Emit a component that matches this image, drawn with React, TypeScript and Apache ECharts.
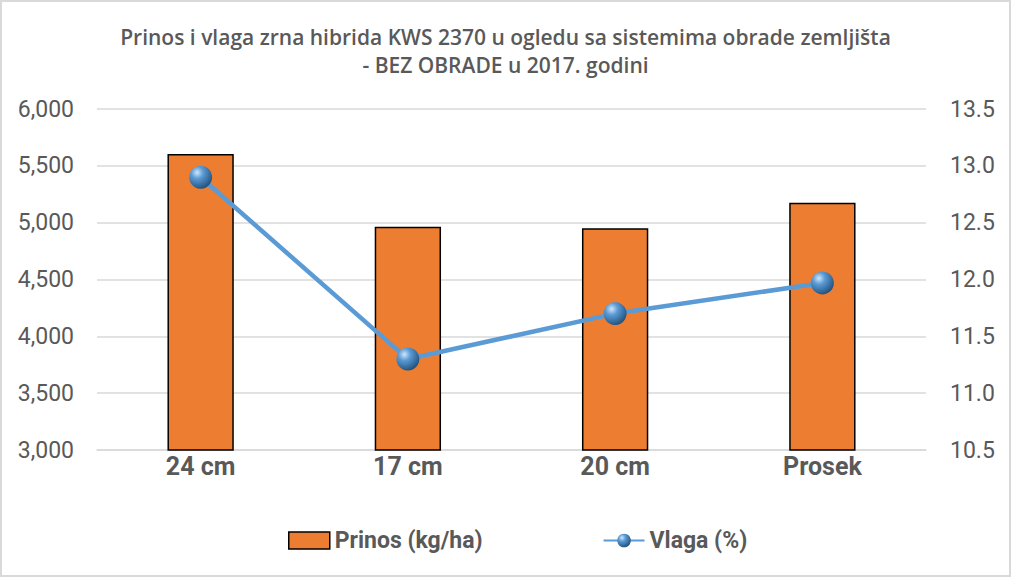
import React, { useEffect, useRef } from "react";
import * as echarts from "echarts";

const categories = ["24 cm", "17 cm", "20 cm", "Prosek"];
const prinos = [5605, 4965, 4950, 5175];
const vlaga = [12.9, 11.3, 11.7, 11.97];
const titleText = "Prinos i vlaga zrna hibrida KWS 2370 u ogledu sa sistemima obrade zemljišta\n- BEZ OBRADE u 2017. godini";

const FONT = "Roboto, 'Noto Sans', sans-serif";
const GRAY = "#595959";

export default function App() {
  const ref = useRef<HTMLDivElement>(null);
  useEffect(() => {
    document.body.style.margin = "0";
    const chart = echarts.init(ref.current!, null, { renderer: "svg" });
    const sphere = new echarts.graphic.RadialGradient(0.35, 0.3, 0.75, [
      { offset: 0, color: "#cfe6fb" },
      { offset: 0.35, color: "#5b9bd5" },
      { offset: 1, color: "#1f4e79" },
    ]);
    chart.setOption({
      animation: false,
      backgroundColor: "#ffffff",
      textStyle: { fontFamily: FONT },
      title: {
        text: titleText,
        left: "center",
        top: 16,
        textStyle: {
          fontFamily: "'Open Sans', Roboto, sans-serif",
          fontSize: 21,
          fontWeight: 600,
          color: GRAY,
          lineHeight: 28,
        },
      },
      legend: {
        bottom: 18,
        left: 281,
        itemGap: 120,
        itemWidth: 41,
        itemHeight: 17,
        textStyle: { fontFamily: FONT, fontSize: 23, fontWeight: "bold", color: GRAY },
        data: [
          { name: "Prinos (kg/ha)", icon: "rect", itemStyle: { color: "#ed7d31", borderColor: "#000", borderWidth: 1.5 } },
          { name: "Vlaga (%)" },
        ],
      },
      grid: { left: 95, right: 83, top: 107, bottom: 125 },
      xAxis: {
        type: "category",
        data: categories,
        axisLine: { show: true, lineStyle: { color: "#d9d9d9", width: 1.5 } },
        axisTick: { show: false },
        axisLabel: { fontFamily: FONT, fontSize: 25, fontWeight: "bold", color: GRAY, margin: 4 },
      },
      yAxis: [
        {
          type: "value",
          min: 3000,
          max: 6000,
          interval: 500,
          axisLine: { show: false },
          axisTick: { show: false },
          splitLine: { lineStyle: { color: "#d9d9d9", width: 1.5 } },
          axisLabel: {
            fontFamily: FONT,
            fontSize: 23,
            color: GRAY,
            margin: 23,
            formatter: (v: number) => v.toLocaleString("en-US"),
          },
        },
        {
          type: "value",
          min: 10.5,
          max: 13.5,
          interval: 0.5,
          axisLine: { show: false },
          axisTick: { show: false },
          splitLine: { show: false },
          axisLabel: {
            fontFamily: FONT,
            fontSize: 23,
            color: GRAY,
            margin: 24,
            formatter: (v: number) => v.toFixed(1),
          },
        },
      ],
      series: [
        {
          name: "Prinos (kg/ha)",
          type: "bar",
          data: prinos,
          barWidth: "32%",
          itemStyle: { color: "#ed7d31", borderColor: "#000", borderWidth: 1.5 },
        },
        {
          name: "Vlaga (%)",
          type: "line",
          yAxisIndex: 1,
          data: vlaga,
          symbol: "circle",
          symbolSize: 23,
          lineStyle: { color: "#5b9bd5", width: 4.5 },
          itemStyle: { color: sphere, borderWidth: 0 },
        },
      ],
    });
    return () => chart.dispose();
  }, []);
  return (
    <div
      ref={ref}
      style={{ width: 1011, height: 577, boxSizing: "border-box", border: "2px solid #d9d9d9" }}
    />
  );
}
